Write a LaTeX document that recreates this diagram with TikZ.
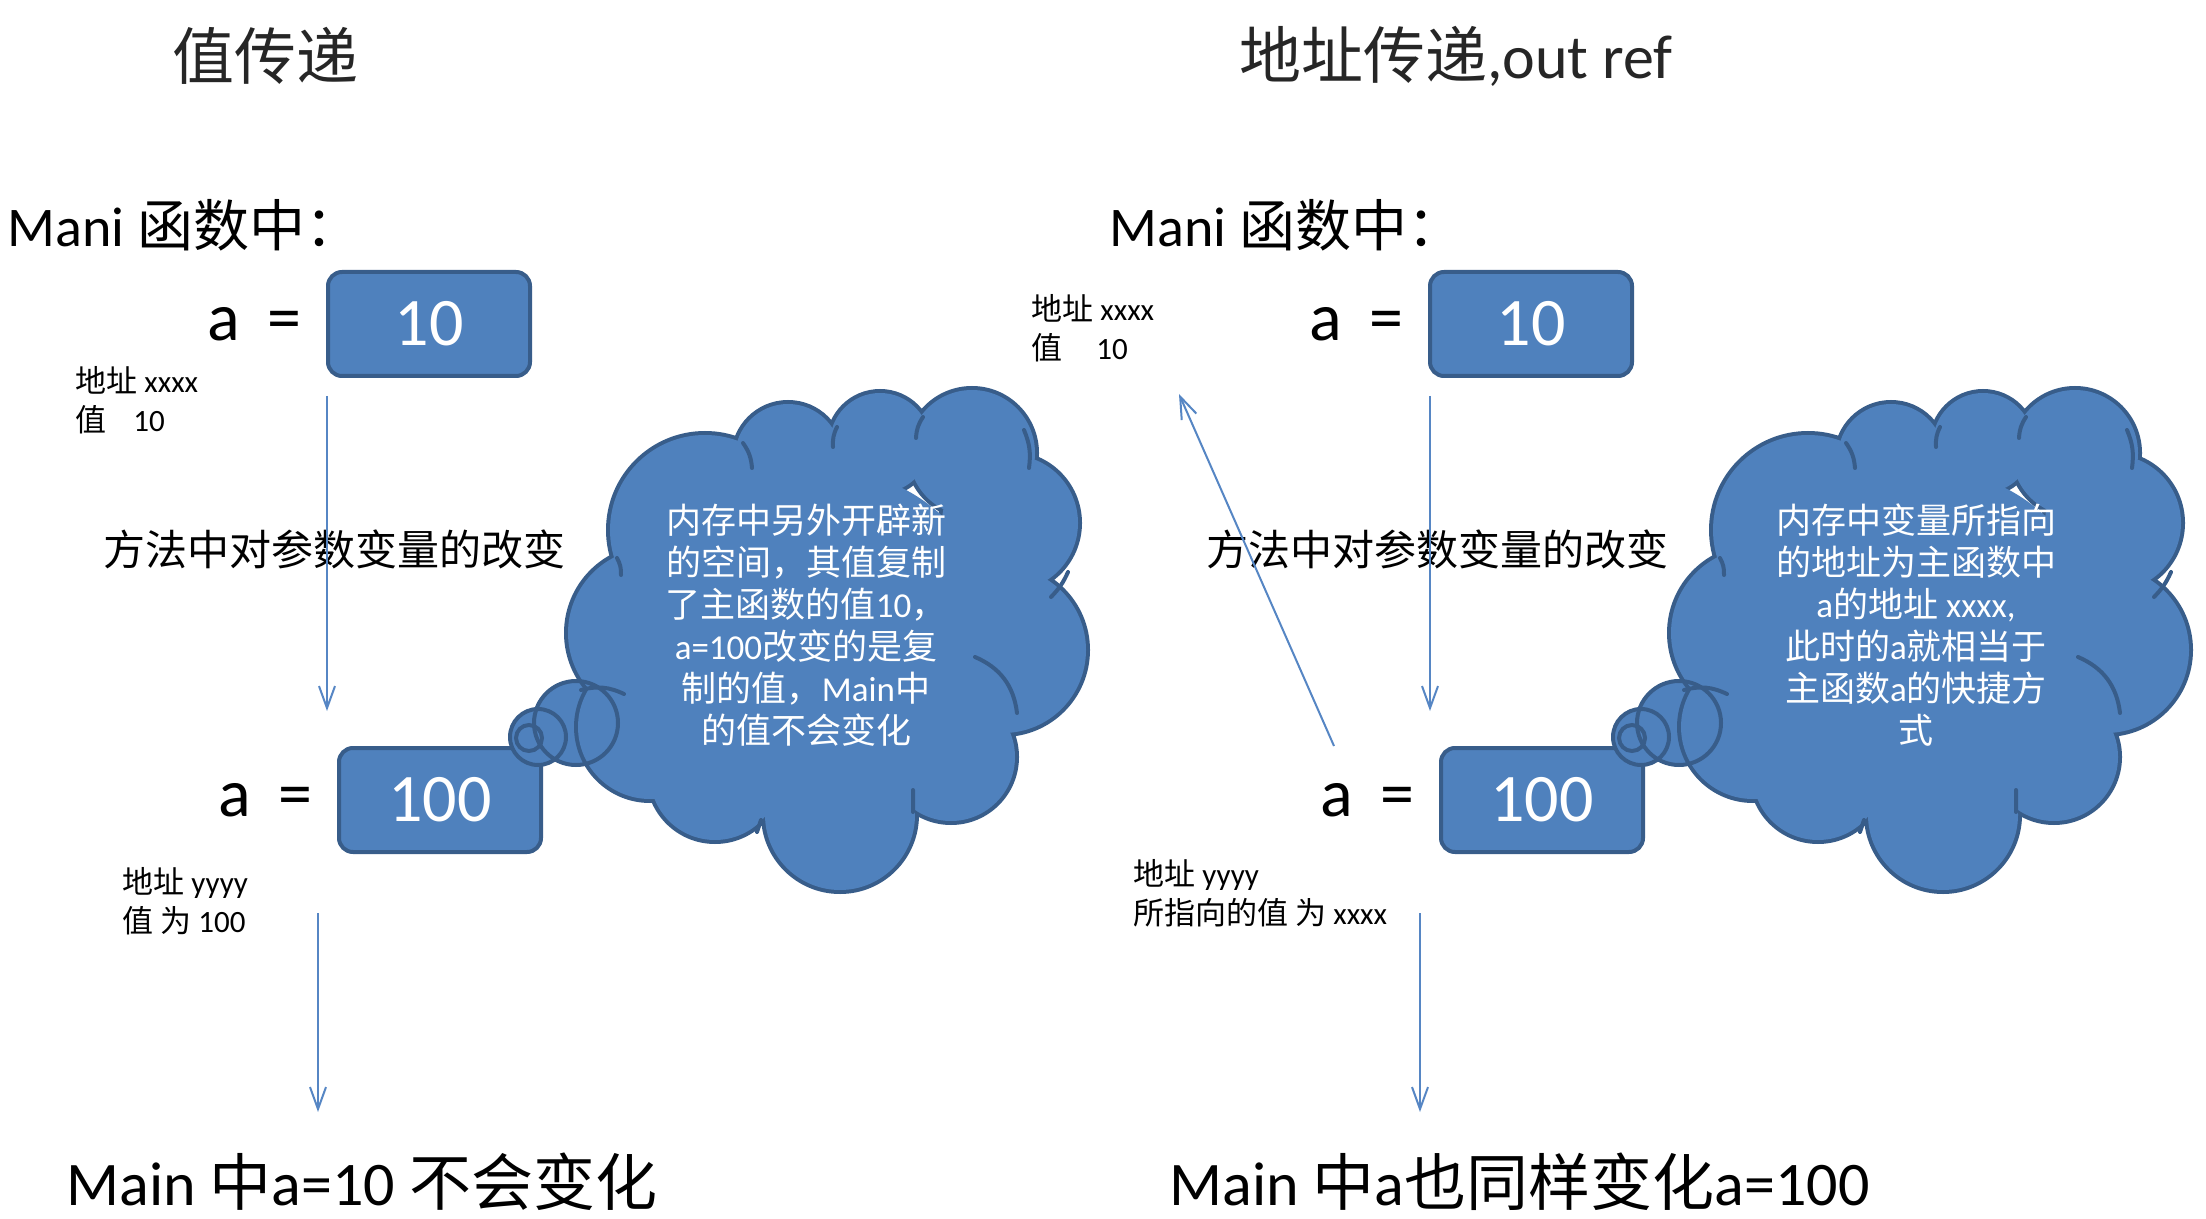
\documentclass[tikz,border=0pt]{standalone}
\usepackage{fontspec}
\setmainfont{Carlito}
\newfontfamily\cjk{Noto Sans CJK SC}
\usetikzlibrary{arrows.meta,calc}
\definecolor{cfill}{RGB}{79,129,189}
\definecolor{cborder}{RGB}{56,93,138}
\definecolor{arrowblue}{RGB}{86,134,196}
\newcommand{\fsz}[2]{\fontsize{#1}{#2}\selectfont}
\newcommand{\mycloud}{%
  \fill[cfill] (576,723) circle[radius=42];
  \fill[cfill] (538,737) circle[radius=28];
  \foreach \cx/\cy/\cr in {705/530/95, 788/457/53, 880/443/50, 972/453/63, 1010/523/68, 1003/650/83, 951/757/64, 840/815/75, 715/775/65, 650/727/72, 653/633/85}
    {\filldraw[fill=cfill, draw=cborder, line width=4pt] (\cx,\cy) circle[radius=\cr];}
  \foreach \cx/\cy/\cr in {705/530/95, 788/457/53, 880/443/50, 972/453/63, 1010/523/68, 1003/650/83, 951/757/64, 840/815/75, 715/775/65, 650/727/72, 653/633/85}
    {\fill[cfill] (\cx,\cy) circle[radius=\cr];}
  \fill[cfill] (826,640) circle[radius=170];
  \draw[cborder, line width=2pt] (576,723) circle[radius=42];
  \draw[cborder, line width=2pt] (538,737) circle[radius=28];
  \draw[cborder, line width=2pt] (529,738) circle[radius=13];
  \draw[cborder, line width=2pt, line cap=round]
    (617,558) to[bend left=15] (621,575)
    (743,443) to[bend left=15] (752,468)
    (837,427) to[bend right=15] (833,447)
    (923,417) to[bend right=15] (916,438)
    (1024,430) to[bend left=15] (1029,468)
    (1068,572) to[bend left=10] (1051,597)
    (975,657) to[bend left=30] (1017,713)
    (913,790) to (913,812)
    (761,820) to (757,832)
    (581,690) to[bend left=20] (624,694);
}
\begin{document}
\begin{tikzpicture}[x=0.5pt,y=-0.5pt,
  valbox/.style={draw=cborder, fill=cfill, line width=2pt, rounded corners=7pt,
    minimum width=101pt, minimum height=52pt, inner sep=0pt, text=white,
    font=\fsz{34pt}{40pt}},
  conn/.style={draw=arrowblue, line width=1pt, -{Straight Barb[length=11pt,width=8pt]}},
  titletext/.style={font=\fsz{31pt}{37pt}, text=black!85, inner sep=0pt},
  headtext/.style={font=\fsz{28pt}{34pt}, inner sep=0pt, anchor=west},
  eqtext/.style={font=\fsz{34pt}{40pt}, inner sep=0pt, anchor=east},
  smalltext/.style={font=\fsz{15.5pt}{19.5pt}, inner sep=0pt, anchor=west, align=left},
  midtext/.style={font=\fsz{21pt}{25pt}, inner sep=0pt, anchor=west},
  maintext/.style={font=\fsz{31pt}{37pt}, inner sep=0pt, anchor=west},
  cloudtext/.style={font=\fsz{17.5pt}{21pt}, text=white, inner sep=0pt, align=center}
]
\useasboundingbox (0,0) rectangle (2206,1219);
\fill[white] (0,0) rectangle (2206,1219);

% titles
\node[titletext] (t1) at (265,56) {{\cjk 值传递}};
\node[titletext] (t2) at (1456,56) {{\cjk 地址传递},out ref};

% headings
\node[headtext] (h1) at (7,225) {Mani {\cjk 函数中：}};
\node[headtext] (h2) at (1109,225) {Mani {\cjk 函数中：}};

% boxes
\node[valbox] (b10l) at (429,324) {10};
\node[valbox] (b100l) at (440,800) {100};
\node[valbox] (b10r) at (1531,324) {10};
\node[valbox] (b100r) at (1542,800) {100};

% a =
\node[eqtext] (e1) at ([xshift=-12pt]b10l.west) {a\hspace{14pt}=};
\node[eqtext] (e2) at ([xshift=-12pt]b100l.west) {a\hspace{14pt}=};
\node[eqtext] (e3) at ([xshift=-12pt]b10r.west) {a\hspace{14pt}=};
\node[eqtext] (e4) at ([xshift=-12pt]b100r.west) {a\hspace{14pt}=};

% small labels
\node[smalltext] (s1) at (75,400) {{\cjk 地址} xxxx\\{\cjk 值}\hspace{13.5pt}10};
\node[smalltext] (s2) at (1031,328) {{\cjk 地址} xxxx\\{\cjk 值}\hspace{17pt}10};
\node[smalltext] (s3) at (122,901) {{\cjk 地址} yyyy\\{\cjk 值 为} 100};
\node[smalltext] (s4) at (1133,893) {{\cjk 地址} yyyy\\{\cjk 所指向的值 为} xxxx};

% middle texts
\node[midtext] (m1) at (103,549) {{\cjk 方法中对参数变量的改变}};
\node[midtext] (m2) at (1206,549) {{\cjk 方法中对参数变量的改变}};

% bottom texts
\node[maintext] (f1) at (66,1182) {Main {\cjk 中}a=10 {\cjk 不会变化}};
\node[maintext] (f2) at (1169,1182) {Main {\cjk 中}a{\cjk 也同样变化}a=100};

% clouds
\mycloud
\begin{scope}[shift={(1103,0)}]
\mycloud
\end{scope}

\node[cloudtext] (c1) at (806,625) {{\cjk 内存中另外开辟新}\\{\cjk 的空间，其值复制}\\{\cjk 了主函数的值}10{\cjk ，}\\a=100{\cjk 改变的是复}\\{\cjk 制的值，}Main{\cjk 中}\\{\cjk 的值不会变化}};
\node[cloudtext] (c2) at (1916,625) {{\cjk 内存中变量所指向}\\{\cjk 的地址为主函数中}\\a{\cjk 的地址} xxxx,\\{\cjk 此时的}a{\cjk 就相当于}\\{\cjk 主函数}a{\cjk 的快捷方}\\{\cjk 式}};

% connectors
\coordinate (l1s) at ($(b10l.south west)+(1,18)$);
\coordinate (l1e) at (l1s |- 0,711);
\coordinate (l2s) at ($(b100l.south west)+(-19,59)$);
\coordinate (l2e) at (l2s |- 0,1112);
\coordinate (r1s) at ($(b10r.south west)+(2,18)$);
\coordinate (r1e) at (r1s |- 0,711);
\coordinate (r2s) at ($(b100r.south west)+(-19,59)$);
\coordinate (r2e) at (r2s |- 0,1112);
\coordinate (ds) at (1334,746);
\coordinate (de) at (1179,394);
\draw[conn] (l1s) -- (l1e);
\draw[conn] (l2s) -- (l2e);
\draw[conn] (r1s) -- (r1e);
\draw[conn] (r2s) -- (r2e);
\draw[conn] (ds) -- (de);
\end{tikzpicture}
\end{document}
